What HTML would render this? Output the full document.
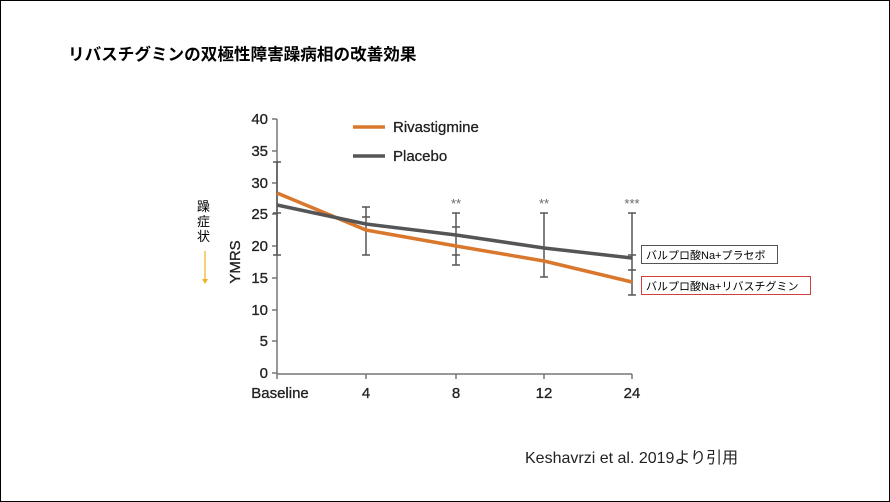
<!DOCTYPE html>
<html><head><meta charset="utf-8"><style>
body{margin:0;background:#fff;}
.wrap{position:relative;width:888px;height:500px;border:1px solid #000;background:#fff;overflow:hidden;font-family:"Liberation Sans","Noto Sans CJK JP",sans-serif;}
.t{position:absolute;white-space:nowrap;}
</style></head><body><div class="wrap">
<div class="t" style="left:67px;top:40px;font-size:16.6px;font-weight:bold;color:#000;">リバスチグミンの双極性障害躁病相の改善効果</div>
<svg width="890" height="502" style="position:absolute;left:-1px;top:-1px" font-family="Liberation Sans, sans-serif">
<g stroke="#777" stroke-width="1.5" fill="none">
<line x1="277" y1="119" x2="277" y2="374"/>
<line x1="277" y1="374" x2="632" y2="374"/>
</g>
<g stroke="#777" stroke-width="1.5">
<line x1="272" y1="119" x2="277" y2="119"/><line x1="272" y1="151" x2="277" y2="151"/><line x1="272" y1="183" x2="277" y2="183"/><line x1="272" y1="214" x2="277" y2="214"/><line x1="272" y1="246" x2="277" y2="246"/><line x1="272" y1="278" x2="277" y2="278"/><line x1="272" y1="310" x2="277" y2="310"/><line x1="272" y1="341" x2="277" y2="341"/><line x1="272" y1="373" x2="277" y2="373"/>
<line x1="366" y1="374" x2="366" y2="379"/><line x1="456" y1="374" x2="456" y2="379"/><line x1="544" y1="374" x2="544" y2="379"/><line x1="632" y1="374" x2="632" y2="379"/><line x1="277" y1="374" x2="277" y2="379"/>
</g>
<g font-size="15" fill="#222" text-anchor="end" stroke="#222" stroke-width="0.3">
<text x="268" y="124">40</text><text x="268" y="156">35</text><text x="268" y="188">30</text><text x="268" y="219">25</text><text x="268" y="251">20</text><text x="268" y="283">15</text><text x="268" y="315">10</text><text x="268" y="346">5</text><text x="268" y="378">0</text>
</g>
<g font-size="15" fill="#222" text-anchor="middle" stroke="#222" stroke-width="0.3">
<text x="280" y="398">Baseline</text><text x="366" y="398">4</text><text x="456" y="398">8</text><text x="544" y="398">12</text><text x="632" y="398">24</text>
</g>
<text x="0" y="0" font-size="15" fill="#222" stroke="#222" stroke-width="0.3" transform="translate(240,262) rotate(-90)" text-anchor="middle">YMRS</text>
<g stroke="#555" stroke-width="1.5">
<line x1="277" y1="162" x2="277" y2="255"/><line x1="273" y1="162" x2="281" y2="162"/><line x1="273" y1="213" x2="281" y2="213"/><line x1="273" y1="255" x2="281" y2="255"/>
<line x1="366" y1="207" x2="366" y2="255"/><line x1="362" y1="207" x2="370" y2="207"/><line x1="362" y1="217" x2="370" y2="217"/><line x1="362" y1="255" x2="370" y2="255"/>
<line x1="456" y1="213" x2="456" y2="265"/><line x1="452" y1="213" x2="460" y2="213"/><line x1="452" y1="227" x2="460" y2="227"/><line x1="452" y1="255" x2="460" y2="255"/><line x1="452" y1="265" x2="460" y2="265"/>
<line x1="544" y1="213" x2="544" y2="277"/><line x1="540" y1="213" x2="548" y2="213"/><line x1="540" y1="277" x2="548" y2="277"/>
<line x1="632" y1="213" x2="632" y2="295"/><line x1="628" y1="213" x2="636" y2="213"/><line x1="628" y1="255" x2="636" y2="255"/><line x1="628" y1="270" x2="636" y2="270"/><line x1="628" y1="295" x2="636" y2="295"/>
</g>
<polyline points="277,193 366,230 456,246 544,261 632,282" fill="none" stroke="#d9782d" stroke-width="3.5"/>
<polyline points="277,205 366,224 456,235 544,248 632,258" fill="none" stroke="#555558" stroke-width="3.5"/>
<line x1="353" y1="127" x2="385" y2="127" stroke="#d9782d" stroke-width="3.5"/>
<line x1="353" y1="156" x2="385" y2="156" stroke="#555558" stroke-width="3.5"/>
<text x="393" y="132" font-size="15" fill="#222" stroke="#222" stroke-width="0.3">Rivastigmine</text>
<text x="393" y="161" font-size="15" fill="#222" stroke="#222" stroke-width="0.3">Placebo</text>
<g font-size="13" fill="#666" text-anchor="middle"><text x="456" y="208">**</text><text x="544" y="208">**</text><text x="632" y="208">***</text></g>
<line x1="205" y1="251" x2="205" y2="282" stroke="#f0b020" stroke-width="1.2"/>
<polygon points="202,279 208,279 205,284" fill="#f0b020"/>
<rect x="641.5" y="245.5" width="136" height="18" fill="#fff" stroke="#555"/>
<rect x="641.5" y="276.5" width="169" height="18" fill="#fff" stroke="#d04040"/>
</svg>
<div class="t" style="left:196px;top:198px;font-size:13px;line-height:15px;width:14px;white-space:normal;">躁症状</div>
<div class="t" style="left:645px;top:246px;font-size:11px;">バルプロ酸Na+プラセボ</div>
<div class="t" style="left:645px;top:277px;font-size:11px;">バルプロ酸Na+リバスチグミン</div>
<div class="t" style="left:524px;top:443px;font-size:16px;color:#222;">Keshavrzi et al. 2019より引用</div>
</div></body></html>
